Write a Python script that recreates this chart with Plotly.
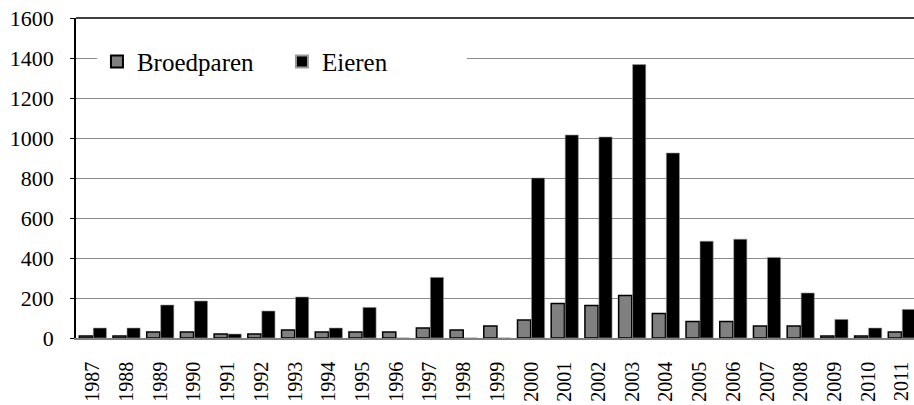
import plotly.graph_objects as go

years = [str(y) for y in range(1987, 2012)]
broedparen = [10, 10, 30, 30, 20, 20, 40, 30, 30, 30, 50, 40, 60, 90, 173, 162, 212, 123, 82, 82, 60, 60, 10, 10, 30]
eieren = [50, 50, 165, 185, 20, 135, 205, 50, 153, 0, 303, 0, 0, 800, 1015, 1005, 1367, 925, 484, 494, 403, 225, 93, 50, 143]
y_ticks = [0, 200, 400, 600, 800, 1000, 1200, 1400, 1600]

FONT = "'Liberation Serif', 'Times New Roman', Times, serif"

fig = go.Figure()
fig.add_trace(go.Bar(x=years, y=broedparen, name="Broedparen",
                     marker=dict(color="#808080", line=dict(color="#000000", width=1.5))))
fig.add_trace(go.Bar(x=years, y=eieren, name="Eieren",
                     marker=dict(color="#000000", line=dict(color="#9a9a9a", width=0.6))))

fig.update_layout(
    width=914, height=405,
    margin=dict(l=76, r=0, t=18, b=67),
    paper_bgcolor="white", plot_bgcolor="white",
    barmode="group", bargap=0.17, bargroupgap=0.06,
    font=dict(family=FONT, color="black", size=21),
    showlegend=True,
    legend=dict(orientation="h", x=0.025, y=0.935, xanchor="left", yanchor="top",
                bgcolor="white", font=dict(family=FONT, size=25, color="black"),
                entrywidth=140, itemsizing="constant", traceorder="normal"),
    xaxis=dict(type="category", range=[-0.5, 24.36], tickangle=-90,
               showline=True, linecolor="#808080", linewidth=1.5,
               ticks="", showgrid=False, tickfont=dict(family=FONT, size=20),
               ticklabelstandoff=14, automargin=False),
    yaxis=dict(range=[0, 1600], tickvals=y_ticks, showline=True, linecolor="black",
               linewidth=1.5, ticks="outside", ticklen=4, tickcolor="black",
               showgrid=True, gridcolor="#8c8c8c", gridwidth=1,
               tickfont=dict(family=FONT, size=22), ticklabelstandoff=12,
               zeroline=False, automargin=False),
    shapes=[dict(type="line", xref="paper", yref="paper", x0=0, x1=1, y0=1, y1=1,
                 line=dict(color="black", width=1.5))],
)

fig.write_html("out.html", config={"displayModeBar": False},
               post_script="document.body.style.margin='0';document.body.style.overflow='hidden';")
